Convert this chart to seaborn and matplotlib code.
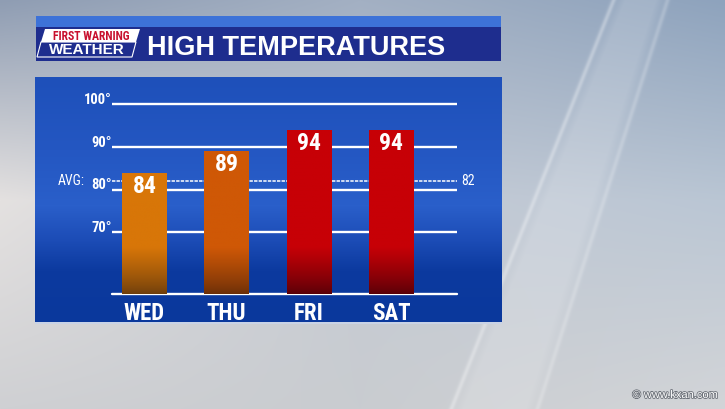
import numpy as np
import pandas as pd
import matplotlib
matplotlib.use("Agg")
import matplotlib.pyplot as plt
import matplotlib.patheffects as pe
from matplotlib import font_manager as fm
from matplotlib.patches import Polygon
import seaborn as sns

# chart data
days = ["WED", "THU", "FRI", "SAT"]
highs = [84, 89, 94, 94]
avg_high = 82
grid_temps = [70, 80, 90, 100]
grid_labels = ["70°", "80°", "90°", "100°"]
bar_top_colors = ["#d87608", "#cf5806", "#c70006", "#c70006"]
bar_base_colors = ["#6e3e0c", "#6a2e08", "#580008", "#580008"]
title = "HIGH TEMPERATURES"

# fonts
installed = {f.name for f in fm.fontManager.ttflist}


def pick(*names):
    for n in names:
        if n in installed:
            return n
    return "DejaVu Sans"


narrow = pick("Liberation Sans Narrow", "Roboto Condensed", "DejaVu Sans Condensed", "Liberation Sans")
wide = pick("Liberation Sans", "DejaVu Sans")

sns.set_style("white")

W, H = 725, 409
fig = plt.figure(figsize=(W / 100, H / 100), dpi=100)


def hexrgb(h):
    h = h.lstrip("#")
    return np.array([int(h[i:i + 2], 16) / 255 for i in (0, 2, 4)])


# ---- background (sky + panels), pixel coordinates ----
yy, xx = np.mgrid[0:H, 0:W].astype(float)
key_y = [0, 200, H - 1]
key_x = [0, 360, W - 1]
keys = [["#8f9db3", "#a3b0c3", "#8ea3bd"],
        ["#e4e1e0", "#c5cbd5", "#bac6d4"],
        ["#cfd0d3", "#c9ccd0", "#d3d5d8"]]
rows = []
for r in range(3):
    cols = np.array([hexrgb(c) for c in keys[r]])
    rows.append(np.stack([np.interp(np.arange(W), key_x, cols[:, c]) for c in range(3)], -1))
sky = np.zeros((H, W, 3))
for r in range(3):
    wgt = np.interp(np.arange(H), key_y, np.eye(3)[r])
    sky += wgt[:, None, None] * rows[r][None, :, :]

# soft light streaks
l1 = 613 - 0.397 * yy
l2 = 667 - 0.318 * yy
band = np.clip((xx - l1) / 12, 0, 1) * np.clip((l2 - xx) / 12, 0, 1) * 0.16
glow = 0.32 * np.exp(-((xx - l1) / 2.5) ** 2) + 0.22 * np.exp(-((xx - l2) / 2.5) ** 2)
mix = np.clip(band + glow, 0, 0.6)[:, :, None]
sky = sky * (1 - mix) + mix

# chart panel
p_keys_y = [77, 150, 205, 240, 270, 323]
p_cols = np.array([hexrgb(c) for c in ["#1e50ba", "#2457c2", "#2a5fca", "#1c4cb6", "#0c3a9f", "#0a389c"]])
prow = np.stack([np.interp(np.arange(H), p_keys_y, p_cols[:, c]) for c in range(3)], -1)
sky[77:323, 35:502] = prow[77:323, None, :]
sky[322:324, 35:502] = hexrgb("#c9d3e6")

# title bar
sky[16:27, 36:501] = hexrgb("#3d72d8")
sky[27:61, 36:501] = hexrgb("#1e2d8e")

bg = fig.add_axes([0, 0, 1, 1])
bg.imshow(sky, extent=[0, W, H, 0], aspect="auto", interpolation="bilinear")
bg.set_xlim(0, W)
bg.set_ylim(H, 0)
bg.axis("off")

# logo
bg.add_patch(Polygon([(41, 42), (45, 29), (140, 29), (136, 42)], closed=True, fc="white", ec="none"))
bg.add_patch(Polygon([(41, 42), (37, 57), (132, 57), (136, 42)], closed=True, fc="none", ec="white", lw=0.8))
bg.text(91, 36, "FIRST WARNING", ha="center", va="center", color="#c8102e",
        fontsize=8.5, fontweight="bold", family=narrow)
bg.text(87, 50, "WEATHER", ha="center", va="center", color="white",
        fontsize=11, fontweight="bold", family=wide)
bg.text(147, 55, title, ha="left", va="baseline", color="white",
        fontsize=19.5, fontweight="bold", family=wide)

bg.text(718, 395, "© www.kxan.com", ha="right", va="center", color="white", fontsize=8,
        family=wide, path_effects=[pe.withStroke(linewidth=1.2, foreground="#6b7078")])

# ---- bar chart ----
base = 55.5
left_px, right_px, top_px, bot_px = 111.7, 457.3, 95.8, 294
ax = fig.add_axes([left_px / W, (H - bot_px) / H, (right_px - left_px) / W, (bot_px - top_px) / H])
ax.patch.set_alpha(0)

df = pd.DataFrame({"day": days, "high": highs})
sns.barplot(data=df, x="day", y="high", hue="day", palette=bar_top_colors, legend=False,
            width=0.54, saturation=1, ax=ax, zorder=2, linewidth=0, edgecolor="none")

for t in grid_temps:
    ax.axhline(t, color="white", lw=1.7, zorder=1)
ax.axhline(base, color="white", lw=1.7, zorder=1, clip_on=False)
ax.axhline(avg_high, color="white", lw=1.1, ls=(0, (2.2, 0.8)), zorder=1.5)

# gradient fill on each bar
for i, p in enumerate(ax.patches):
    x0, w, top = p.get_x(), p.get_width(), p.get_height()
    t = np.linspace(base, top, 300)
    frac = np.clip((t - base) / 11.0, 0, 1) ** 0.8
    c0, c1 = hexrgb(bar_base_colors[i]), hexrgb(bar_top_colors[i])
    img = (c0[None, :] * (1 - frac[:, None]) + c1[None, :] * frac[:, None])[:, None, :]
    im = ax.imshow(img, extent=[x0, x0 + w, base, top], origin="lower", aspect="auto", zorder=2.1)
    im.set_clip_path(p)

for i, v in enumerate(highs):
    ax.text(i, v - 0.5, str(v), ha="center", va="top", color="white", fontsize=17,
            fontweight="bold", family=narrow, zorder=3)

for t, lab in zip(grid_temps, grid_labels):
    ax.text(-0.40, t + 1.0, lab, ha="right", va="center", color="white", fontsize=10.5,
            fontweight="bold", family=narrow)
ax.text(-0.725, avg_high, "AVG:", ha="right", va="center", color="white", fontsize=10, family=narrow)
ax.text(3.85, avg_high, str(avg_high), ha="left", va="center", color="white", fontsize=10, family=narrow)

ax.set_xlim(-0.398, 3.807)
ax.set_ylim(base, 102)
ax.set_yticks([])
ax.set_xticks(range(len(days)))
ax.set_xticklabels(days, fontsize=16.5, fontweight="bold", color="white", family=narrow)
ax.tick_params(axis="x", length=0, pad=6)
ax.set_xlabel("")
ax.set_ylabel("")
for s in ax.spines.values():
    s.set_visible(False)

fig.savefig("out.png", dpi=100)
